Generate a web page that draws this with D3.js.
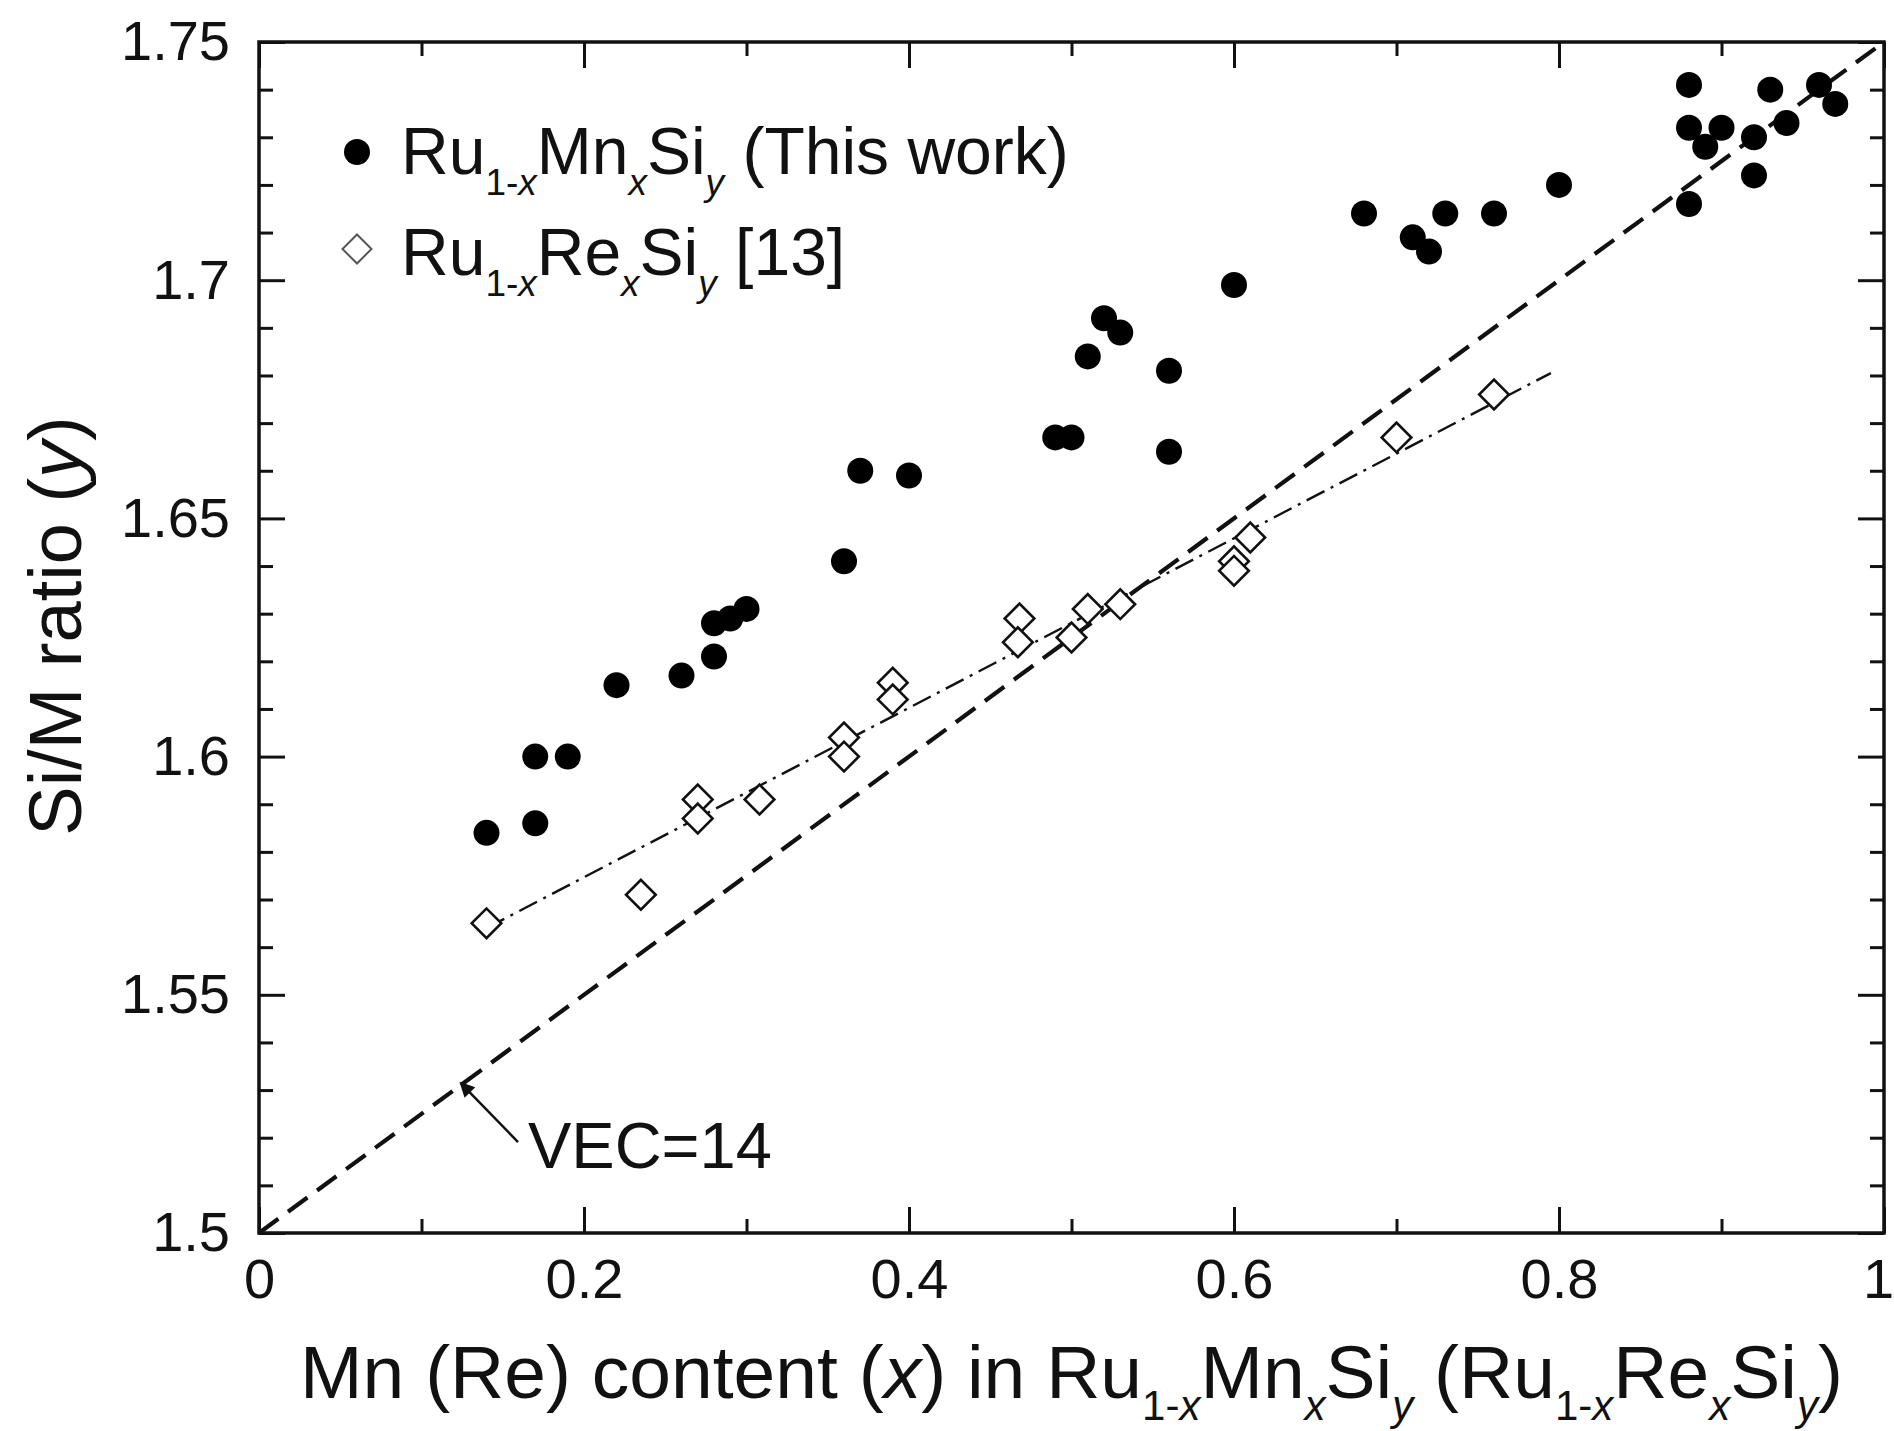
<!DOCTYPE html>
<html>
<head>
<meta charset="utf-8">
<script src="https://cdn.jsdelivr.net/npm/d3@7"></script>
<style>
html,body{margin:0;padding:0;background:#fff;}
svg{display:block;}
text{font-family:"Liberation Sans",Arial,Helvetica,sans-serif;fill:#111;}
</style>
</head>
<body>
<svg id="chart" width="1894" height="1431"></svg>
<script>
// ---- Data ----
const mnX = [0.14,0.17,0.17,0.19,0.22,0.26,0.28,0.28,0.29,0.30,0.36,0.37,0.40,0.49,0.50,0.51,0.52,0.53,0.56,0.56,0.60,0.68,0.71,0.72,0.73,0.76,0.80,0.88,0.88,0.88,0.89,0.90,0.92,0.92,0.93,0.94,0.96,0.97];
const mnY = [1.584,1.586,1.600,1.600,1.615,1.617,1.621,1.628,1.629,1.631,1.641,1.660,1.659,1.667,1.667,1.684,1.692,1.689,1.681,1.664,1.699,1.714,1.709,1.706,1.714,1.714,1.720,1.741,1.732,1.716,1.728,1.732,1.730,1.722,1.740,1.733,1.741,1.737];

const reX = [0.14,0.235,0.27,0.27,0.308,0.36,0.36,0.39,0.39,0.468,0.467,0.50,0.51,0.53,0.60,0.60,0.61,0.70,0.76];
const reY = [1.565,1.571,1.591,1.587,1.591,1.604,1.600,1.6155,1.612,1.629,1.624,1.625,1.631,1.632,1.641,1.639,1.646,1.667,1.676];

// linear fit through the Re data (dash-dot), endpoints
const reFitX = [0.14,0.795];
const reFitY = [1.564,1.6805];

// VEC = 14 line
const vecX = [0,1];
const vecY = [1.5,1.75];

const xMajorTicks = [0,0.2,0.4,0.6,0.8,1];
const xMinorTicks = [0.1,0.3,0.5,0.7,0.9];
const yMajorTicks = [1.5,1.55,1.6,1.65,1.7,1.75];
const yMinorTicks = [1.51,1.52,1.53,1.54,1.56,1.57,1.58,1.59,1.61,1.62,1.63,1.64,1.66,1.67,1.68,1.69,1.71,1.72,1.73,1.74];
const xTickLabels = ["0","0.2","0.4","0.6","0.8","1"];
const yTickLabels = ["1.5","1.55","1.6","1.65","1.7","1.75"];

// ---- Layout ----
const L = 259, R = 1884, T = 42, B = 1233;
const x = d3.scaleLinear().domain([0,1]).range([L,R]);
const y = d3.scaleLinear().domain([1.5,1.75]).range([B,T]);

const svg = d3.select("#chart");
const FONT = '"Liberation Sans",Arial,Helvetica,sans-serif';

// ---- Axes (ticks inward on all four sides) ----
function styleAxis(g, fontSize){
  g.select(".domain").remove();
  g.selectAll(".tick line").attr("stroke","#111").attr("stroke-width",3);
  g.selectAll(".tick text").attr("font-size",fontSize).attr("font-family",FONT).attr("fill","#111");
}
const MAJ = 26, MIN = 14;

svg.append("g").attr("transform",`translate(0,${B})`)
  .call(d3.axisBottom(x).tickValues(xMajorTicks).tickSizeInner(-MAJ).tickSizeOuter(0).tickPadding(25)
    .tickFormat((d,i)=>xTickLabels[i]))
  .call(g=>styleAxis(g,56))
  .call(g=>g.selectAll(".tick text").filter(d=>d===1).attr("dx",-6));
svg.append("g").attr("transform",`translate(0,${B})`)
  .call(d3.axisBottom(x).tickValues(xMinorTicks).tickSizeInner(-MIN).tickSizeOuter(0).tickFormat(""))
  .call(g=>styleAxis(g,0));
svg.append("g").attr("transform",`translate(0,${T})`)
  .call(d3.axisTop(x).tickValues(xMajorTicks).tickSizeInner(-MAJ).tickSizeOuter(0).tickFormat(""))
  .call(g=>styleAxis(g,0));
svg.append("g").attr("transform",`translate(0,${T})`)
  .call(d3.axisTop(x).tickValues(xMinorTicks).tickSizeInner(-MIN).tickSizeOuter(0).tickFormat(""))
  .call(g=>styleAxis(g,0));

svg.append("g").attr("transform",`translate(${L},0)`)
  .call(d3.axisLeft(y).tickValues(yMajorTicks).tickSizeInner(-MAJ).tickSizeOuter(0).tickPadding(29)
    .tickFormat((d,i)=>yTickLabels[i]))
  .call(g=>styleAxis(g,56));
svg.append("g").attr("transform",`translate(${L},0)`)
  .call(d3.axisLeft(y).tickValues(yMinorTicks).tickSizeInner(-MIN).tickSizeOuter(0).tickFormat(""))
  .call(g=>styleAxis(g,0));
svg.append("g").attr("transform",`translate(${R},0)`)
  .call(d3.axisRight(y).tickValues(yMajorTicks).tickSizeInner(-MAJ).tickSizeOuter(0).tickFormat(""))
  .call(g=>styleAxis(g,0));
svg.append("g").attr("transform",`translate(${R},0)`)
  .call(d3.axisRight(y).tickValues(yMinorTicks).tickSizeInner(-MIN).tickSizeOuter(0).tickFormat(""))
  .call(g=>styleAxis(g,0));

// frame
svg.append("rect").attr("x",L).attr("y",T).attr("width",R-L).attr("height",B-T)
  .attr("fill","none").attr("stroke","#111").attr("stroke-width",3.5);

// ---- Lines ----
const line = d3.line().x(d=>x(d[0])).y(d=>y(d[1]));
svg.append("path").datum(vecX.map((v,i)=>[v,vecY[i]]))
  .attr("d",line).attr("fill","none").attr("stroke","#111").attr("stroke-width",4.2)
  .attr("stroke-dasharray","24,12");
svg.append("path").datum(reFitX.map((v,i)=>[v,reFitY[i]]))
  .attr("d",line).attr("fill","none").attr("stroke","#111").attr("stroke-width",2.4)
  .attr("stroke-dasharray","20,7,3,7");

// ---- Markers ----
const diamond = d3.symbol().type(d3.symbolSquare).size(440);
svg.append("g").selectAll("path").data(reX.map((v,i)=>[v,reY[i]])).join("path")
  .attr("d",diamond())
  .attr("transform",d=>`translate(${x(d[0])},${y(d[1])}) rotate(45)`)
  .attr("fill","#fff").attr("stroke","#111").attr("stroke-width",2.6);

svg.append("g").selectAll("circle").data(mnX.map((v,i)=>[v,mnY[i]])).join("circle")
  .attr("cx",d=>x(d[0])).attr("cy",d=>y(d[1])).attr("r",13).attr("fill","#000");

// ---- Rich text helper (subscripts / italics) ----
function rich(sel, parts, size, subScale, subOff){
  let state = 0; // 0 main, 1 sub
  parts.forEach(p=>{
    const ts = sel.append("tspan").text(p.t);
    const isSub = !!p.sub;
    ts.attr("font-size", isSub ? size*subScale : size);
    if (p.it) ts.attr("font-style","italic");
    if (isSub && state===0) ts.attr("dy", subOff);
    if (!isSub && state===1) ts.attr("dy", -subOff);
    state = isSub ? 1 : 0;
  });
}

// ---- Legend ----
svg.append("circle").attr("cx",357).attr("cy",152).attr("r",13).attr("fill","#000");
svg.append("path").attr("d",d3.symbol().type(d3.symbolSquare).size(420)())
  .attr("transform","translate(357,249) rotate(45)")
  .attr("fill","#fff").attr("stroke","#555").attr("stroke-width",2);

const LEG = 66;
rich(svg.append("text").attr("x",401).attr("y",174),
  [{t:"Ru"},{t:"1-",sub:true},{t:"x",sub:true,it:true},{t:"Mn"},{t:"x",sub:true,it:true},
   {t:"Si"},{t:"y",sub:true,it:true},{t:" (This work)"}], LEG, 0.56, 21);
rich(svg.append("text").attr("x",401).attr("y",275),
  [{t:"Ru"},{t:"1-",sub:true},{t:"x",sub:true,it:true},{t:"Re"},{t:"x",sub:true,it:true},
   {t:"Si"},{t:"y",sub:true,it:true},{t:" [13]"}], LEG, 0.56, 21);

// ---- Axis titles ----
const AX = 75;
rich(svg.append("text").attr("x",(L+R)/2).attr("y",1398).attr("text-anchor","middle"),
  [{t:"Mn (Re) content ("},{t:"x",it:true},{t:") in Ru"},{t:"1-",sub:true},{t:"x",sub:true,it:true},
   {t:"Mn"},{t:"x",sub:true,it:true},{t:"Si"},{t:"y",sub:true,it:true},{t:" (Ru"},
   {t:"1-",sub:true},{t:"x",sub:true,it:true},{t:"Re"},{t:"x",sub:true,it:true},{t:"Si"},
   {t:"y",sub:true,it:true},{t:")"}], AX, 0.56, 22);

rich(svg.append("text").attr("transform","translate(81,626) rotate(-90)").attr("text-anchor","middle"),
  [{t:"Si/M ratio ("},{t:"y",it:true},{t:")"}], 74, 0.5, 22);

// ---- VEC=14 annotation ----
const annTip = [0.124, 1.5315], annTail = [0.1594, 1.5191], annText = [0.1655, 1.5137];
svg.append("defs").append("marker").attr("id","ah").attr("viewBox","0 0 10 10")
  .attr("refX",9).attr("refY",5).attr("markerWidth",7).attr("markerHeight",6)
  .attr("markerUnits","strokeWidth").attr("orient","auto")
  .append("path").attr("d","M0,0 L10,5 L0,10 Z").attr("fill","#111");
svg.append("line").attr("x1",x(annTail[0])).attr("y1",y(annTail[1]))
  .attr("x2",x(annTip[0])).attr("y2",y(annTip[1]))
  .attr("stroke","#111").attr("stroke-width",2.5).attr("marker-end","url(#ah)");
svg.append("text").attr("x",x(annText[0])).attr("y",y(annText[1]))
  .attr("font-size",65).text("VEC=14");
</script>
</body>
</html>
